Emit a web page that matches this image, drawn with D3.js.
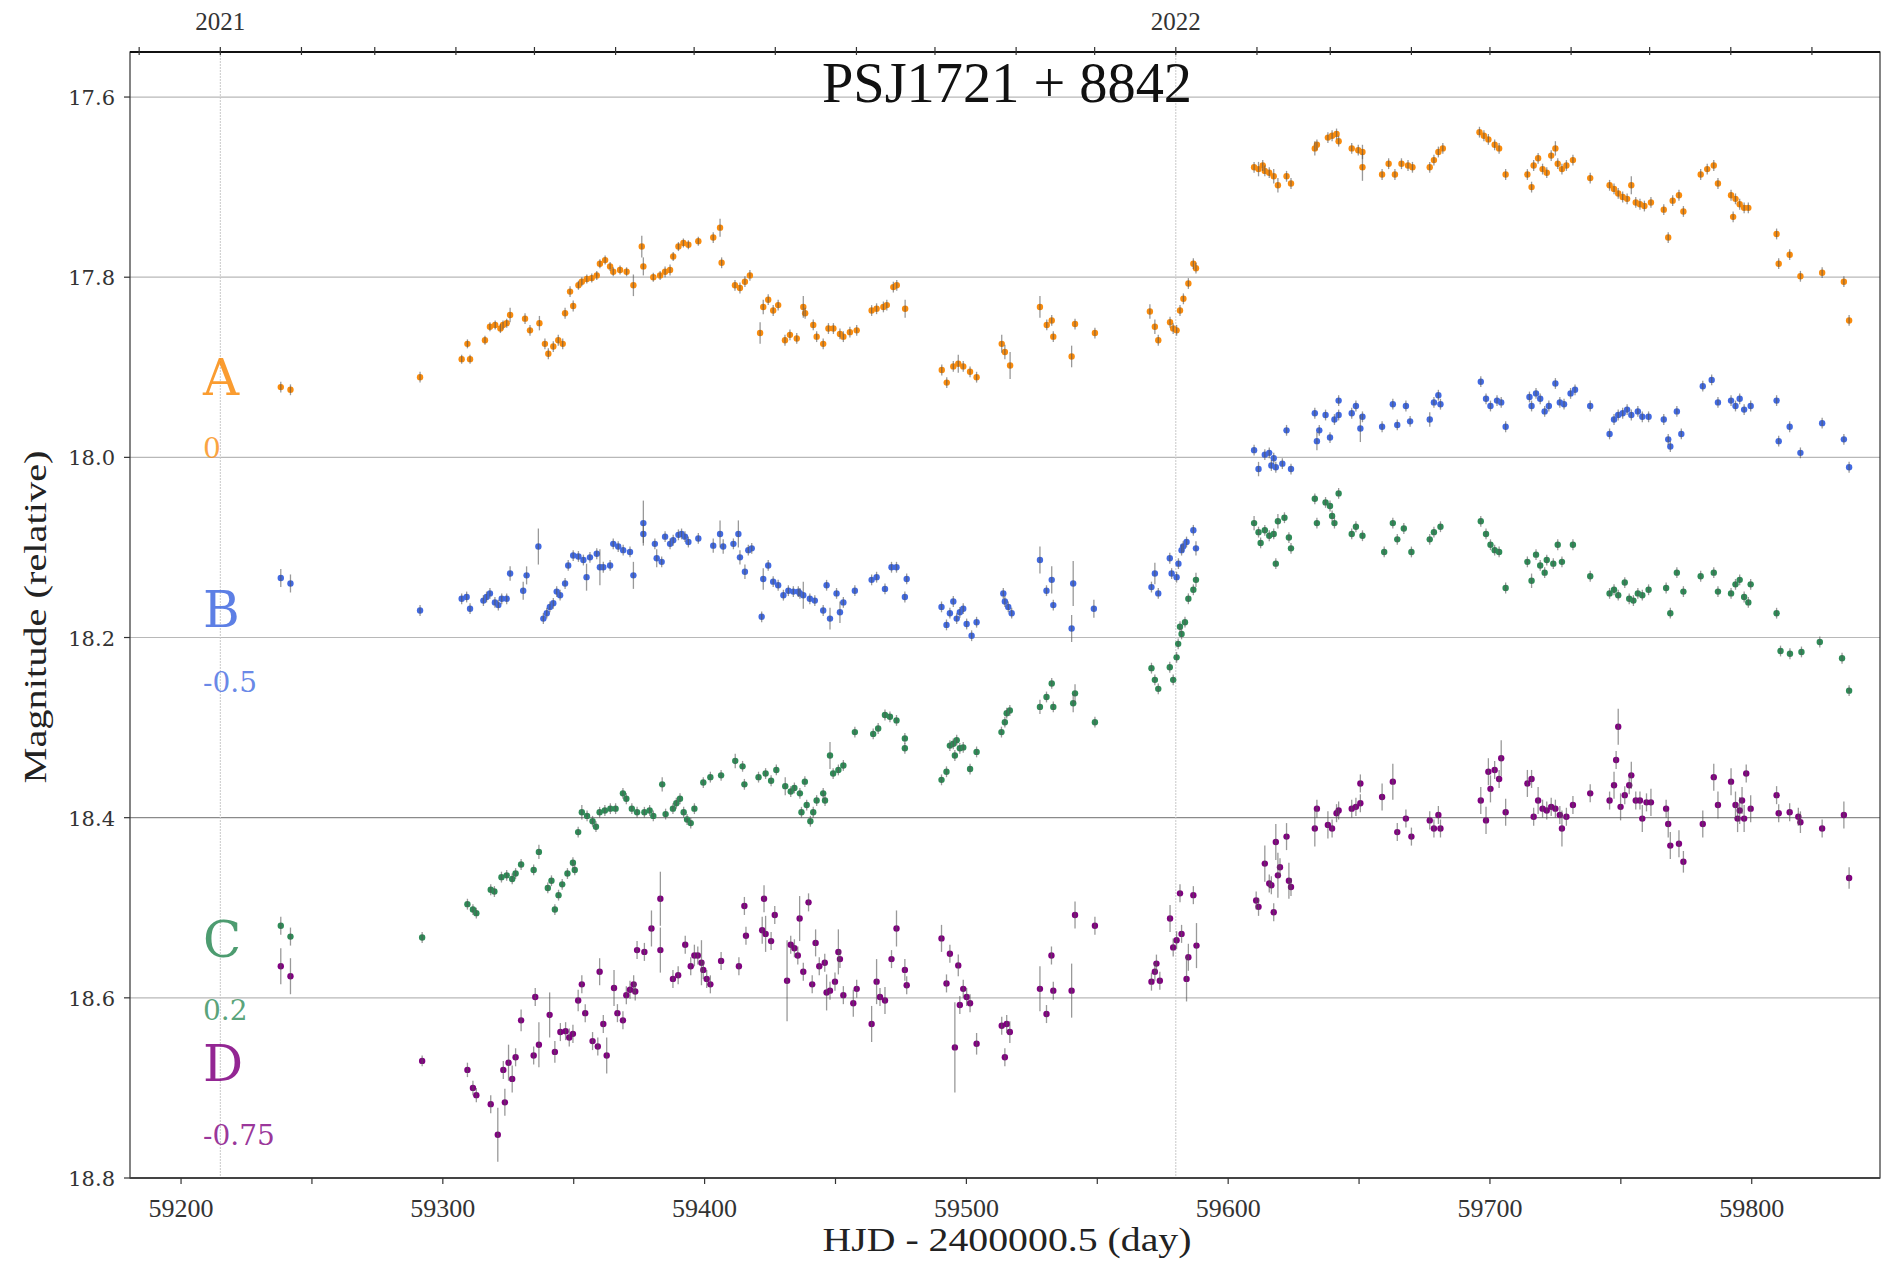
<!DOCTYPE html>
<html>
<head>
<meta charset="utf-8">
<script src="https://cdn.jsdelivr.net/npm/d3@7"></script>
<style>
  html, body { margin: 0; padding: 0; background: #fff; }
  svg { display: block; }
</style>
</head>
<body>
<svg id="chart" width="1897" height="1262"></svg>
<script>
// Light curves of the four images of PSJ1721+8842: [HJD-2400000.5, magnitude, error]
const seriesA = [
  [59238.1,17.922,.006],[59241.8,17.925,.006],[59291.3,17.911,.006],
  [59307.2,17.891,.005],[59309.4,17.874,.005],[59310.4,17.891,.005],[59316.1,17.870,.005],[59318.0,17.855,.005],
  [59320.0,17.853,.005],[59322.0,17.857,.005],[59323.0,17.853,.005],[59324.4,17.851,.005],[59325.7,17.842,.008],
  [59331.4,17.846,.006],[59333.3,17.859,.006],[59336.9,17.851,.008],[59339.0,17.874,.006],[59340.3,17.885,.006],
  [59342.2,17.877,.006],[59344.1,17.870,.006],[59345.8,17.874,.006],[59346.7,17.840,.006],[59348.6,17.816,.006],
  [59349.8,17.832,.006],[59351.8,17.809,.005],[59353.1,17.805,.005],[59355.0,17.802,.005],[59356.9,17.801,.005],
  [59358.8,17.798,.005],[59360.0,17.785,.005],[59362.0,17.781,.005],[59363.9,17.788,.005],[59365.1,17.794,.005],
  [59367.7,17.792,.005],[59370.2,17.794,.005],[59372.8,17.809,.012],[59376.0,17.766,.012],[59376.6,17.788,.010],
  [59380.4,17.800,.005],[59383.0,17.798,.005],[59384.9,17.794,.006],[59386.8,17.792,.006],[59388.0,17.777,.005],
  [59390.0,17.766,.005],[59391.9,17.762,.005],[59393.8,17.764,.005],[59397.6,17.760,.005],[59403.3,17.756,.006],
  [59405.9,17.745,.010],[59406.5,17.784,.006],[59411.6,17.809,.006],[59413.5,17.812,.006],[59415.4,17.805,.006],
  [59417.3,17.798,.006],[59421.2,17.862,.012],[59422.4,17.833,.008],[59424.3,17.825,.006],[59426.2,17.837,.006],
  [59428.1,17.831,.006],[59430.7,17.870,.006],[59432.6,17.864,.006],[59435.2,17.868,.006],[59437.7,17.833,.012],
  [59438.4,17.840,.006],[59441.5,17.853,.006],[59442.8,17.866,.006],[59445.3,17.874,.006],[59447.3,17.857,.006],
  [59449.2,17.857,.006],[59451.7,17.863,.006],[59453.0,17.866,.006],[59455.5,17.861,.006],[59458.1,17.859,.006],
  [59463.8,17.837,.006],[59465.7,17.835,.006],[59468.3,17.833,.006],[59469.6,17.831,.006],[59472.1,17.811,.006],
  [59473.4,17.809,.006],[59476.6,17.835,.010],
  [59490.6,17.903,.006],[59492.5,17.917,.006],[59495.0,17.899,.006],[59496.9,17.896,.010],[59498.8,17.899,.006],
  [59501.4,17.905,.006],[59503.9,17.911,.006],[59513.5,17.874,.010],[59514.7,17.883,.008],[59516.7,17.898,.015],
  [59528.1,17.833,.012],[59530.7,17.853,.006],[59532.6,17.848,.006],[59533.2,17.866,.006],[59540.2,17.888,.012],
  [59541.5,17.852,.006],[59549.1,17.862,.006],
  [59570.1,17.838,.008],[59572.0,17.855,.008],[59573.3,17.870,.006],[59577.8,17.850,.006],[59579.0,17.857,.006],
  [59580.3,17.859,.006],[59581.6,17.837,.006],[59582.9,17.824,.006],[59584.8,17.807,.006],[59586.7,17.785,.006],
  [59587.7,17.790,.006],
  [59609.9,17.678,.006],[59611.6,17.680,.008],[59613.2,17.676,.006],[59614.0,17.682,.006],[59615.7,17.684,.006],
  [59617.4,17.688,.008],[59619.0,17.698,.008],[59622.3,17.688,.006],[59624.0,17.696,.006],
  [59633.1,17.657,.008],[59633.9,17.653,.006],[59638.1,17.645,.006],[59639.7,17.643,.006],[59641.4,17.641,.006],
  [59642.2,17.649,.006],[59647.2,17.657,.006],[59649.7,17.659,.006],[59651.3,17.661,.008],[59651.3,17.678,.015],
  [59658.8,17.686,.006],[59661.3,17.674,.006],[59663.7,17.686,.006],[59666.2,17.674,.006],[59668.7,17.676,.006],
  [59670.4,17.678,.006],[59677.0,17.678,.006],[59678.6,17.670,.006],[59680.3,17.661,.006],[59682.0,17.657,.006],
  [59696.0,17.639,.006],[59697.7,17.643,.006],[59699.4,17.647,.006],[59701.8,17.653,.006],[59703.5,17.657,.006],
  [59706.0,17.686,.006],[59714.3,17.686,.006],[59715.9,17.700,.006],[59716.7,17.676,.006],[59718.4,17.668,.006],
  [59720.1,17.680,.006],[59721.7,17.684,.006],[59723.4,17.665,.006],[59725.0,17.657,.008],[59725.9,17.674,.006],
  [59727.5,17.680,.006],[59729.2,17.676,.006],[59731.7,17.670,.006],[59738.3,17.690,.006],
  [59745.7,17.698,.006],[59747.4,17.702,.006],[59749.0,17.707,.006],[59750.7,17.711,.006],[59752.4,17.713,.006],
  [59754.0,17.698,.010],[59755.7,17.717,.006],[59757.3,17.719,.006],[59759.0,17.721,.006],[59761.5,17.717,.006],
  [59766.4,17.725,.006],[59768.1,17.756,.006],[59769.8,17.715,.006],[59772.2,17.709,.006],[59773.9,17.727,.006],
  [59780.5,17.686,.006],[59783.0,17.680,.006],[59785.5,17.676,.006],[59787.1,17.696,.006],[59792.1,17.709,.006],
  [59793.8,17.713,.006],[59795.4,17.719,.006],[59797.1,17.723,.006],[59798.7,17.723,.006],[59792.9,17.733,.006],
  [59809.5,17.752,.006],[59810.3,17.785,.006],[59814.5,17.775,.006],[59818.6,17.799,.006],[59826.9,17.795,.006],
  [59835.2,17.805,.006],[59837.2,17.848,.006]
];

const seriesB = [
  [59238.1,18.134,.010],[59241.8,18.140,.010],[59291.3,18.170,.006],
  [59307.2,18.157,.006],[59309.1,18.155,.006],[59310.4,18.168,.006],[59315.5,18.159,.006],[59316.7,18.155,.006],
  [59318.0,18.151,.006],[59319.9,18.161,.006],[59321.2,18.164,.006],[59322.5,18.157,.006],[59324.4,18.157,.006],
  [59325.7,18.129,.008],[59330.7,18.148,.010],[59332.0,18.131,.010],[59336.5,18.099,.020],
  [59338.4,18.179,.006],[59339.7,18.173,.006],[59340.9,18.166,.006],[59342.2,18.162,.006],[59343.5,18.149,.006],
  [59344.8,18.153,.006],[59346.7,18.140,.006],[59347.9,18.120,.006],[59349.8,18.109,.006],[59351.8,18.110,.006],
  [59353.7,18.114,.006],[59354.9,18.133,.015],[59356.2,18.111,.006],[59358.8,18.107,.006],[59360.0,18.122,.020],
  [59361.3,18.122,.006],[59363.9,18.120,.006],[59365.1,18.096,.006],[59367.0,18.099,.006],[59368.9,18.103,.006],
  [59371.5,18.105,.006],[59372.8,18.131,.015],[59376.6,18.073,.025],[59376.6,18.085,.010],[59381.0,18.096,.006],
  [59381.7,18.112,.010],[59383.6,18.116,.006],[59384.9,18.088,.006],[59386.8,18.096,.006],[59388.0,18.092,.006],
  [59390.0,18.086,.006],[59391.2,18.085,.006],[59392.5,18.088,.006],[59393.8,18.094,.006],[59397.6,18.090,.006],
  [59403.3,18.098,.008],[59405.9,18.085,.015],[59407.1,18.099,.008],[59411.0,18.096,.006],[59412.9,18.085,.015],
  [59413.5,18.111,.008],[59415.4,18.127,.008],[59416.7,18.103,.006],[59418.0,18.101,.006],
  [59421.8,18.177,.006],[59422.4,18.135,.012],[59424.3,18.120,.006],[59426.2,18.138,.006],[59428.1,18.142,.006],
  [59430.1,18.153,.006],[59432.0,18.148,.006],[59433.9,18.149,.006],[59435.8,18.149,.006],
  [59436.4,18.151,.006],[59437.7,18.153,.015],[59440.2,18.157,.006],[59442.1,18.159,.006],[59445.3,18.170,.006],
  [59446.6,18.142,.006],[59447.9,18.179,.012],[59450.4,18.151,.006],[59451.7,18.172,.012],[59453.0,18.161,.006],
  [59457.4,18.148,.006],[59463.8,18.136,.006],[59465.7,18.133,.006],[59468.9,18.146,.006],[59471.4,18.122,.006],
  [59473.3,18.122,.006],[59476.5,18.155,.006],[59477.2,18.135,.006],
  [59490.5,18.166,.006],[59492.4,18.186,.006],[59493.7,18.173,.006],[59495.0,18.160,.006],[59496.3,18.179,.006],
  [59497.5,18.172,.006],[59498.8,18.168,.006],[59500.1,18.185,.006],[59502.0,18.198,.006],[59503.9,18.183,.006],
  [59514.1,18.151,.006],[59514.7,18.160,.006],[59516.0,18.166,.006],[59517.3,18.173,.006],
  [59528.1,18.114,.015],[59530.6,18.148,.006],[59532.6,18.136,.015],[59533.2,18.164,.006],[59540.2,18.190,.015],
  [59540.8,18.140,.025],[59548.7,18.168,.010],
  [59570.7,18.144,.006],[59572.0,18.129,.012],[59573.3,18.151,.006],[59577.7,18.112,.006],[59578.4,18.129,.006],
  [59580.3,18.133,.006],[59581.0,18.118,.006],[59582.2,18.103,.006],[59582.8,18.099,.006],[59584.1,18.094,.006],
  [59586.7,18.081,.006],[59587.7,18.101,.008],
  [59609.9,17.992,.006],[59611.6,18.013,.008],[59614.0,17.997,.006],[59615.7,17.995,.006],[59616.5,18.009,.006],
  [59617.4,18.001,.006],[59618.2,18.011,.006],[59620.7,18.007,.006],[59622.3,17.970,.006],[59624.0,18.013,.006],
  [59633.1,17.951,.006],[59633.9,17.982,.010],[59634.8,17.970,.006],[59637.2,17.953,.006],[59638.9,17.978,.006],
  [59640.6,17.958,.006],[59642.2,17.937,.006],[59642.2,17.953,.006],[59647.2,17.951,.006],[59648.8,17.943,.006],
  [59650.5,17.968,.015],[59651.3,17.955,.006],[59658.8,17.966,.006],[59662.9,17.941,.006],[59664.6,17.964,.006],
  [59667.9,17.943,.006],[59669.5,17.960,.006],[59677.0,17.958,.008],[59678.6,17.939,.006],[59680.3,17.931,.006],
  [59681.1,17.941,.006],[59696.5,17.916,.006],[59698.5,17.935,.006],[59700.2,17.943,.006],[59702.7,17.937,.006],
  [59704.3,17.939,.006],[59706.0,17.966,.006],[59715.1,17.933,.006],[59715.9,17.943,.006],[59717.6,17.929,.006],
  [59719.2,17.935,.006],[59720.9,17.949,.006],[59722.5,17.943,.006],[59725.0,17.918,.006],[59726.7,17.939,.006],
  [59728.3,17.941,.006],[59730.8,17.929,.006],[59732.5,17.925,.006],[59738.3,17.943,.006],
  [59745.7,17.974,.006],[59747.4,17.958,.006],[59749.0,17.953,.006],[59750.7,17.951,.006],[59752.4,17.947,.006],
  [59754.0,17.953,.006],[59756.5,17.949,.006],[59758.2,17.955,.006],[59760.6,17.955,.006],[59766.4,17.958,.006],
  [59768.1,17.980,.006],[59768.9,17.988,.006],[59771.4,17.949,.006],[59773.1,17.974,.006],
  [59781.3,17.921,.006],[59784.7,17.914,.006],[59787.1,17.939,.006],[59792.1,17.937,.006],[59793.8,17.943,.006],
  [59795.4,17.935,.006],[59797.1,17.947,.006],[59799.6,17.943,.006],
  [59809.5,17.937,.006],[59810.3,17.982,.006],[59814.5,17.966,.006],[59818.6,17.995,.006],[59826.9,17.962,.006],
  [59835.2,17.980,.006],[59837.2,18.011,.006]
];

const seriesC = [
  [59238.1,18.520,.010],[59241.8,18.532,.010],[59292.1,18.533,.006],
  [59309.4,18.496,.006],[59311.5,18.502,.006],[59312.8,18.506,.006],[59318.3,18.480,.006],[59319.7,18.482,.006],
  [59322.4,18.466,.006],[59324.4,18.464,.006],[59326.5,18.468,.006],[59327.8,18.462,.006],[59329.9,18.452,.006],
  [59334.7,18.458,.006],[59336.7,18.438,.008],[59340.1,18.478,.006],[59341.5,18.470,.006],[59342.8,18.502,.006],
  [59344.2,18.486,.006],[59345.6,18.474,.006],[59347.6,18.462,.006],[59349.7,18.450,.006],[59350.4,18.458,.006],
  [59351.7,18.416,.006],[59353.1,18.394,.008],[59355.1,18.398,.006],[59357.2,18.404,.006],[59358.5,18.410,.006],
  [59359.9,18.394,.006],[59361.9,18.392,.006],[59364.0,18.390,.006],[59366.0,18.390,.006],[59368.8,18.373,.006],
  [59370.1,18.379,.006],[59372.2,18.390,.006],[59374.2,18.394,.006],[59377.0,18.394,.006],[59379.0,18.392,.006],
  [59380.4,18.398,.006],[59383.8,18.363,.008],[59385.1,18.396,.006],[59387.9,18.390,.006],[59389.2,18.384,.006],
  [59390.6,18.379,.006],[59392.0,18.394,.006],[59393.3,18.402,.006],[59394.7,18.406,.006],[59396.1,18.390,.006],
  [59399.5,18.361,.006],[59402.2,18.355,.006],[59406.3,18.353,.006],[59411.7,18.337,.008],[59414.5,18.343,.006],
  [59415.2,18.363,.006],[59420.6,18.355,.006],[59423.3,18.351,.006],[59425.4,18.359,.006],[59427.4,18.347,.006],
  [59430.8,18.365,.010],[59432.9,18.371,.006],[59434.3,18.367,.006],[59436.4,18.373,.006],[59437.0,18.394,.006],
  [59438.3,18.360,.006],[59439.0,18.386,.006],[59440.4,18.404,.006],[59441.5,18.394,.006],[59442.8,18.381,.006],
  [59445.3,18.373,.006],[59446.0,18.381,.006],[59447.9,18.331,.015],[59449.1,18.351,.006],[59451.1,18.347,.006],
  [59453.0,18.342,.006],[59457.4,18.305,.006],[59464.4,18.307,.006],[59466.3,18.301,.006],[59468.9,18.286,.006],
  [59470.8,18.288,.006],[59473.3,18.292,.006],[59476.5,18.312,.006],[59476.5,18.323,.006],
  [59490.5,18.358,.006],[59492.4,18.349,.006],[59493.7,18.320,.006],[59495.0,18.318,.006],[59495.6,18.331,.006],
  [59496.3,18.314,.006],[59497.5,18.323,.006],[59498.8,18.322,.006],[59501.4,18.346,.006],[59503.9,18.327,.006],
  [59513.4,18.305,.006],[59514.7,18.294,.006],[59515.4,18.284,.006],[59516.6,18.281,.006],
  [59528.1,18.277,.008],[59530.6,18.266,.006],[59532.6,18.251,.006],[59533.2,18.277,.006],[59540.8,18.273,.010],
  [59541.5,18.262,.010],[59549.1,18.294,.006],
  [59570.7,18.234,.006],[59572.0,18.247,.006],[59573.3,18.257,.006],[59577.7,18.233,.006],[59579.0,18.247,.006],
  [59580.3,18.222,.006],[59580.9,18.207,.006],[59581.6,18.188,.006],[59582.2,18.196,.006],[59583.5,18.183,.006],
  [59584.8,18.157,.006],[59586.7,18.147,.006],[59587.7,18.136,.008],
  [59609.9,18.073,.008],[59611.6,18.083,.006],[59612.4,18.095,.006],[59614.0,18.081,.006],[59615.7,18.087,.006],
  [59617.4,18.085,.006],[59618.2,18.118,.006],[59619.0,18.071,.008],[59621.5,18.067,.006],[59623.2,18.089,.006],
  [59624.0,18.101,.006],[59633.1,18.046,.006],[59633.9,18.073,.006],[59637.2,18.050,.006],[59638.9,18.054,.006],
  [59639.7,18.065,.006],[59640.6,18.073,.006],[59642.2,18.040,.006],[59647.2,18.085,.006],[59648.8,18.077,.006],
  [59651.3,18.087,.006],[59659.6,18.105,.006],[59662.9,18.073,.006],[59664.6,18.091,.006],[59667.1,18.079,.006],
  [59670.0,18.105,.006],[59677.0,18.091,.006],[59678.6,18.083,.006],[59681.1,18.077,.006],
  [59696.5,18.071,.006],[59698.5,18.085,.006],[59700.2,18.097,.006],[59701.8,18.103,.006],[59703.5,18.105,.006],
  [59706.0,18.145,.006],[59714.3,18.116,.006],[59715.9,18.137,.008],[59717.6,18.108,.006],[59719.2,18.120,.006],
  [59720.9,18.128,.006],[59721.7,18.114,.006],[59724.2,18.118,.006],[59725.9,18.097,.006],[59727.5,18.116,.006],
  [59731.7,18.097,.006],[59738.3,18.132,.006],
  [59745.7,18.151,.006],[59747.4,18.147,.006],[59749.0,18.153,.006],[59751.5,18.139,.006],[59753.2,18.157,.006],
  [59754.8,18.159,.006],[59756.5,18.151,.006],[59758.2,18.153,.006],[59760.6,18.147,.006],[59767.3,18.145,.006],
  [59768.9,18.173,.006],[59771.4,18.128,.006],[59773.9,18.149,.006],
  [59780.5,18.132,.006],[59785.5,18.128,.006],[59787.1,18.149,.006],[59792.1,18.151,.006],[59793.8,18.141,.006],
  [59795.4,18.136,.006],[59797.1,18.155,.006],[59798.7,18.161,.006],[59799.6,18.141,.006],[59809.5,18.173,.006],
  [59811.0,18.215,.006],[59814.6,18.218,.006],[59819.0,18.216,.006],[59826.0,18.205,.006],[59834.5,18.223,.006],
  [59837.2,18.259,.006]
];

const seriesD = [
  [59238.1,18.565,.020],[59241.8,18.576,.020],[59292.1,18.670,.006],
  [59309.4,18.680,.008],[59311.5,18.700,.008],[59312.8,18.708,.008],[59318.3,18.718,.010],[59321.0,18.752,.030],
  [59323.7,18.716,.015],[59323.1,18.680,.010],[59325.1,18.672,.020],[59326.5,18.690,.015],[59327.8,18.666,.010],
  [59329.9,18.625,.012],[59334.7,18.664,.010],[59335.3,18.599,.010],[59336.7,18.652,.025],[59340.8,18.619,.025],
  [59342.8,18.660,.012],[59344.9,18.638,.010],[59346.9,18.637,.010],[59348.3,18.644,.010],[59349.7,18.640,.010],
  [59351.7,18.603,.012],[59353.1,18.585,.010],[59354.4,18.617,.010],[59357.2,18.648,.010],[59359.2,18.654,.010],
  [59359.9,18.571,.015],[59361.3,18.629,.010],[59362.6,18.664,.020],[59365.4,18.589,.020],[59366.7,18.617,.010],
  [59368.8,18.625,.010],[59370.1,18.597,.010],[59371.5,18.591,.010],[59372.9,18.585,.010],[59373.5,18.593,.010],
  [59374.2,18.547,.010],[59377.0,18.549,.010],[59379.7,18.523,.020],[59383.1,18.490,.030],[59383.1,18.547,.025],
  [59387.9,18.579,.010],[59389.9,18.575,.010],[59392.6,18.541,.010],[59394.7,18.565,.010],[59396.1,18.553,.012],
  [59397.4,18.553,.010],[59398.8,18.561,.025],[59399.5,18.569,.010],[59400.8,18.579,.010],[59402.2,18.585,.010],
  [59406.3,18.559,.010],[59413.1,18.565,.010],[59415.2,18.498,.010],[59415.8,18.531,.010],[59422.0,18.525,.015],
  [59422.7,18.490,.015],[59423.3,18.529,.020],[59425.4,18.537,.010],[59426.8,18.508,.010],[59431.5,18.581,.045],
  [59432.9,18.541,.010],[59434.3,18.545,.010],[59435.6,18.553,.010],[59436.3,18.512,.025],[59437.7,18.571,.010],
  [59439.7,18.494,.010],[59441.1,18.585,.010],[59442.4,18.539,.015],[59443.8,18.565,.010],[59445.9,18.561,.010],
  [59446.6,18.594,.020],[59447.9,18.592,.010],[59449.8,18.582,.010],[59451.1,18.549,.025],[59451.7,18.557,.010],
  [59453.0,18.597,.010],[59456.8,18.606,.015],[59458.1,18.590,.010],[59463.8,18.629,.020],[59465.7,18.582,.025],
  [59467.0,18.599,.010],[59468.9,18.603,.015],[59471.4,18.557,.010],[59473.3,18.523,.020],[59476.5,18.569,.012],
  [59477.2,18.586,.010],
  [59490.5,18.534,.015],[59492.4,18.584,.010],[59493.7,18.551,.010],[59495.6,18.655,.050],[59496.9,18.564,.012],
  [59497.5,18.608,.010],[59498.8,18.590,.010],[59500.1,18.599,.010],[59501.4,18.606,.010],[59503.9,18.651,.012],
  [59513.5,18.631,.010],[59514.7,18.666,.010],[59515.4,18.629,.010],[59516.6,18.638,.012],
  [59528.1,18.590,.025],[59530.6,18.618,.010],[59532.5,18.553,.010],[59533.2,18.592,.010],[59540.2,18.592,.030],
  [59541.5,18.508,.015],[59549.1,18.520,.010],
  [59570.7,18.582,.010],[59572.0,18.571,.010],[59572.6,18.562,.010],[59573.9,18.581,.010],[59577.8,18.512,.015],
  [59579.0,18.544,.010],[59580.3,18.536,.010],[59581.6,18.484,.010],[59582.2,18.529,.010],[59584.1,18.579,.025],
  [59584.8,18.555,.015],[59586.7,18.486,.010],[59587.9,18.542,.025],
  [59610.7,18.492,.010],[59611.6,18.499,.010],[59614.0,18.451,.020],[59615.7,18.473,.010],[59616.5,18.475,.010],
  [59617.4,18.505,.010],[59618.2,18.427,.020],[59619.0,18.464,.025],[59619.8,18.455,.010],[59622.3,18.421,.015],
  [59623.2,18.470,.020],[59624.0,18.477,.010],[59633.1,18.412,.020],[59633.9,18.390,.010],[59638.1,18.408,.015],
  [59639.7,18.412,.010],[59641.4,18.395,.010],[59642.2,18.392,.010],[59647.2,18.390,.010],[59648.8,18.388,.010],
  [59650.5,18.384,.010],[59650.5,18.362,.010],[59658.8,18.377,.015],[59662.9,18.360,.020],[59664.6,18.416,.010],
  [59667.9,18.401,.010],[59670.0,18.421,.010],[59677.0,18.403,.010],[59678.6,18.412,.010],[59680.3,18.397,.010],
  [59681.1,18.412,.010],[59696.5,18.381,.015],[59698.5,18.403,.015],[59699.4,18.349,.015],[59700.2,18.368,.015],
  [59701.8,18.347,.010],[59703.5,18.357,.010],[59704.3,18.334,.020],[59706.0,18.394,.015],
  [59714.3,18.362,.015],[59715.9,18.357,.010],[59716.7,18.399,.010],[59718.4,18.381,.015],[59720.1,18.390,.010],
  [59721.7,18.392,.010],[59723.4,18.388,.010],[59725.0,18.390,.010],[59726.7,18.397,.010],[59727.5,18.412,.020],
  [59729.2,18.399,.010],[59731.7,18.386,.010],[59738.3,18.373,.010],
  [59745.7,18.381,.010],[59747.4,18.364,.015],[59748.2,18.336,.010],[59749.0,18.299,.020],[59749.9,18.388,.015],
  [59751.5,18.375,.010],[59753.2,18.364,.010],[59754.0,18.353,.015],[59755.7,18.381,.010],[59757.3,18.381,.010],
  [59758.2,18.401,.015],[59759.8,18.383,.010],[59761.5,18.383,.015],[59767.3,18.390,.010],[59768.1,18.407,.015],
  [59768.9,18.431,.015],[59772.2,18.429,.015],[59773.9,18.449,.012],[59781.3,18.407,.015],
  [59785.5,18.355,.015],[59787.1,18.386,.015],[59792.1,18.360,.015],[59793.8,18.386,.015],[59794.6,18.401,.015],
  [59795.4,18.392,.015],[59796.3,18.381,.015],[59797.1,18.401,.015],[59797.9,18.351,.010],[59799.6,18.390,.015],
  [59809.5,18.375,.010],[59810.3,18.395,.010],[59814.5,18.394,.010],[59817.8,18.399,.010],[59818.6,18.405,.012],
  [59826.9,18.412,.010],[59835.2,18.397,.015],[59837.2,18.467,.012]
];

const seriesNames = ["A", "B", "C", "D"];
const seriesOffsets = ["0", "-0.5", "0.2", "-0.75"];
const seriesColors = ["#f98b0c", "#4169e1", "#2e8b57", "#800080"];

const xTicks = [59200, 59250, 59300, 59350, 59400, 59450, 59500, 59550, 59600, 59650, 59700, 59750, 59800, 59850];
const xTickLabels = ["59200", "", "59300", "", "59400", "", "59500", "", "59600", "", "59700", "", "59800", ""];
const yTicks = [17.6, 17.8, 18.0, 18.2, 18.4, 18.6, 18.8];
const yTickLabels = ["17.6", "17.8", "18.0", "18.2", "18.4", "18.6", "18.8"];
// Calendar marks on the top axis: month starts, years labelled
const monthStarts = [59184, 59215, 59246, 59274, 59305, 59335, 59366, 59396, 59427, 59458, 59488, 59519, 59549,
                     59580, 59611, 59639, 59670, 59700, 59731, 59761, 59792, 59823];
const yearStarts = [59215, 59580];
const yearLabels = ["2021", "2022"];

const titleText = "PSJ1721 + 8842";
const xLabel = "HJD - 2400000.5 (day)";
const yLabel = "Magnitude (relative)";

// ---- layout ----
const plot = { left: 130, right: 1880, top: 52, bottom: 1178 };
const svg = d3.select("#chart");

const x = d3.scaleLinear().domain([59180.5, 59849]).range([plot.left, plot.right]);
const y = d3.scaleLinear().domain([17.55, 18.8]).range([plot.top, plot.bottom]);

// horizontal grid
svg.append("g").selectAll("line")
  .data(yTicks.filter(t => t < 18.8))
  .join("line")
  .attr("x1", plot.left).attr("x2", plot.right)
  .attr("y1", d => y(d)).attr("y2", d => y(d))
  .attr("stroke", d => Math.abs(d - 18.4) < 1e-6 ? "#8a8a8a" : "#b8b8b8")
  .attr("stroke-width", 1.2);

// year separators
svg.append("g").selectAll("line")
  .data(yearStarts)
  .join("line")
  .attr("x1", d => x(d)).attr("x2", d => x(d))
  .attr("y1", plot.top).attr("y2", plot.bottom)
  .attr("stroke", "#c8c8c8")
  .attr("stroke-width", 1)
  .attr("stroke-dasharray", "2,1");

// data: error bars and points
const allSeries = [seriesA, seriesB, seriesC, seriesD];
const dataG = svg.append("g");
allSeries.forEach((s, i) => {
  const g = dataG.append("g");
  g.selectAll("circle")
    .data(s)
    .join("circle")
    .attr("cx", d => x(d[0]))
    .attr("cy", d => y(d[1]))
    .attr("r", 3.2)
    .attr("fill", seriesColors[i]);
  g.selectAll("line")
    .data(s)
    .join("line")
    .attr("x1", d => x(d[0])).attr("x2", d => x(d[0]))
    .attr("y1", d => y(d[1] - d[2])).attr("y2", d => y(d[1] + d[2]))
    .attr("stroke", "#555")
    .attr("stroke-opacity", 0.6)
    .attr("stroke-width", 1.3);
});

// series labels with their offsets
const labelMag = [17.931, 18.188, 18.555, 18.692];
const offsetMag = [18.001, 18.260, 18.625, 18.763];
seriesNames.forEach((n, i) => {
  svg.append("text")
    .attr("x", 203).attr("y", y(labelMag[i]))
    .attr("font-family", "DejaVu Serif")
    .attr("font-size", 50)
    .attr("fill", seriesColors[i])
    .attr("fill-opacity", 0.85)
    .text(n);
  svg.append("text")
    .attr("x", 203).attr("y", y(offsetMag[i]))
    .attr("font-family", "DejaVu Serif")
    .attr("font-size", 28)
    .attr("fill", seriesColors[i])
    .attr("fill-opacity", 0.8)
    .text(seriesOffsets[i]);
});

// title
svg.append("text")
  .attr("x", (plot.left + plot.right) / 2 + 2)
  .attr("y", 102)
  .attr("text-anchor", "middle")
  .attr("font-family", "Liberation Serif")
  .attr("font-size", 58)
  .attr("fill", "#111")
  .attr("textLength", 370)
  .attr("lengthAdjust", "spacingAndGlyphs")
  .text(titleText);

// frame
svg.append("rect")
  .attr("x", plot.left).attr("y", plot.top)
  .attr("width", plot.right - plot.left).attr("height", plot.bottom - plot.top)
  .attr("fill", "none").attr("stroke", "#333").attr("stroke-width", 1.2);
svg.append("line")
  .attr("x1", plot.left).attr("x2", plot.right)
  .attr("y1", plot.top).attr("y2", plot.top)
  .attr("stroke", "#111").attr("stroke-width", 2);
svg.append("line")
  .attr("x1", plot.left).attr("x2", plot.right)
  .attr("y1", plot.bottom).attr("y2", plot.bottom)
  .attr("stroke", "#444").attr("stroke-width", 2);

// bottom axis
const xAxisG = svg.append("g");
xAxisG.selectAll("line")
  .data(xTicks.filter(t => x(t) <= plot.right))
  .join("line")
  .attr("x1", d => x(d)).attr("x2", d => x(d))
  .attr("y1", plot.bottom).attr("y2", plot.bottom + 6)
  .attr("stroke", "#333").attr("stroke-width", 1.2);
xAxisG.selectAll("text")
  .data(xTicks.map((t, i) => [t, xTickLabels[i]]).filter(d => d[1] !== ""))
  .join("text")
  .attr("x", d => x(d[0])).attr("y", 1217)
  .attr("text-anchor", "middle")
  .attr("font-family", "Liberation Serif")
  .attr("font-size", 26)
  .attr("fill", "#333")
  .text(d => d[1]);

// left axis
const yAxisG = svg.append("g");
yAxisG.selectAll("line")
  .data(yTicks)
  .join("line")
  .attr("x1", plot.left - 6).attr("x2", plot.left)
  .attr("y1", d => y(d)).attr("y2", d => y(d))
  .attr("stroke", "#333").attr("stroke-width", 1.2);
yAxisG.selectAll("text")
  .data(yTicks.map((t, i) => [t, yTickLabels[i]]))
  .join("text")
  .attr("x", plot.left - 15).attr("y", d => y(d[0]) + 8)
  .attr("text-anchor", "end")
  .attr("font-family", "DejaVu Serif")
  .attr("font-size", 21)
  .attr("fill", "#333")
  .text(d => d[1]);

// top calendar axis
const topG = svg.append("g");
topG.selectAll("line")
  .data(monthStarts)
  .join("line")
  .attr("x1", d => x(d)).attr("x2", d => x(d))
  .attr("y1", plot.top - 5).attr("y2", plot.top + 3)
  .attr("stroke", "#333").attr("stroke-width", 1.2);
topG.selectAll("text")
  .data(yearStarts.map((t, i) => [t, yearLabels[i]]))
  .join("text")
  .attr("x", d => x(d[0])).attr("y", 30)
  .attr("text-anchor", "middle")
  .attr("font-family", "Liberation Serif")
  .attr("font-size", 25)
  .attr("fill", "#333")
  .text(d => d[1]);

// axis titles
svg.append("text")
  .attr("x", 1007).attr("y", 1251)
  .attr("text-anchor", "middle")
  .attr("font-family", "Liberation Serif")
  .attr("font-size", 33)
  .attr("fill", "#222")
  .attr("textLength", 369)
  .attr("lengthAdjust", "spacingAndGlyphs")
  .text(xLabel);
svg.append("text")
  .attr("transform", "translate(46,617) rotate(-90)")
  .attr("text-anchor", "middle")
  .attr("font-family", "Liberation Serif")
  .attr("font-size", 32)
  .attr("fill", "#222")
  .attr("textLength", 333)
  .attr("lengthAdjust", "spacingAndGlyphs")
  .text(yLabel);
</script>
</body>
</html>
